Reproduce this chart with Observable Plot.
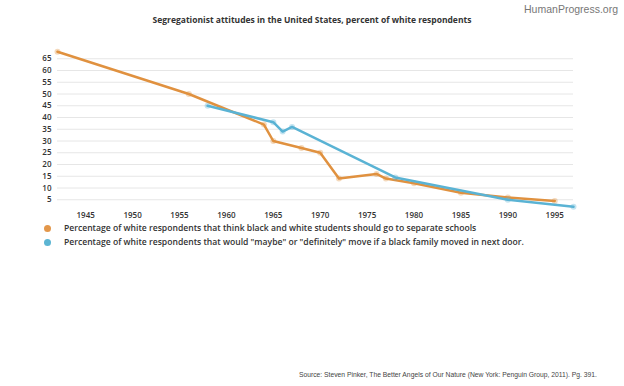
<!DOCTYPE html>
<html><head><meta charset="utf-8">
<script src="https://cdn.jsdelivr.net/npm/d3@7"></script>
<script src="https://cdn.jsdelivr.net/npm/@observablehq/plot@0.6"></script>
<style>
html,body{margin:0;padding:0;background:#fff;}
#wrap{position:relative;width:624px;height:386px;overflow:hidden;font-family:"Open Sans",sans-serif;}
.abs{position:absolute;white-space:nowrap;}
#brand{right:6px;top:3px;font:10.5px "Liberation Sans",Arial,sans-serif;color:#777;}
#title{left:0;width:624px;text-align:center;top:14px;font-size:8.5px;font-weight:700;color:#333;}
.leg{left:44px;font-size:8.6px;font-weight:600;color:#333;}
.leg span{display:inline-block;width:7px;height:7px;border-radius:50%;margin-right:13px;vertical-align:-1px;}
#source{right:27px;top:371px;font:6.75px "Liberation Sans",Arial,sans-serif;color:#444;}
#chart{position:absolute;left:0;top:0;}
</style></head>
<body><div id="wrap">
<div id="chart"></div>
<div id="brand" class="abs">HumanProgress.org</div>
<div id="title" class="abs">Segregationist attitudes in the United States, percent of white respondents</div>
<div class="abs leg" style="top:222px"><span style="background:#e3974a"></span>Percentage of white respondents that think black and white students should go to separate schools</div>
<div class="abs leg" style="top:236px"><span style="background:#5cb5d3"></span>Percentage of white respondents that would "maybe" or "definitely" move if a black family moved in next door.</div>
<div id="source" class="abs">Source: Steven Pinker, The Better Angels of Our Nature (New York: Penguin Group, 2011). Pg. 391.</div>
</div>
<script>
const schoolYears = [1942, 1956, 1964, 1965, 1968, 1970, 1972, 1976, 1977, 1980, 1985, 1990, 1995];
const schoolValues = [68, 50, 37, 30, 27, 25, 14, 16, 14, 12, 8, 6, 4.5];
const moveYears = [1958, 1965, 1966, 1967, 1978, 1990, 1997];
const moveValues = [45, 38, 34, 36, 14.5, 5, 2];
const xTicks = [1945, 1950, 1955, 1960, 1965, 1970, 1975, 1980, 1985, 1990, 1995];
const yTicks = [5, 10, 15, 20, 25, 30, 35, 40, 45, 50, 55, 60, 65];

const orange = "#e0913f";
const blue = "#5ab3d4";
const schools = schoolYears.map((y, i) => ({year: y, value: schoolValues[i]}));
const move = moveYears.map((y, i) => ({year: y, value: moveValues[i]}));

const chart = Plot.plot({
  width: 624, height: 230,
  marginLeft: 57, marginRight: 51, marginTop: 46.5, marginBottom: 19,
  style: {fontFamily: "Open Sans", fontSize: "8px", fontWeight: 600, color: "#333", background: "transparent"},
  x: {domain: [1942, 1997]},
  y: {domain: [0, 70]},
  marks: [
    Plot.gridY(yTicks, {stroke: "#e6e6e6", strokeOpacity: 1}),
    Plot.axisY(yTicks, {tickSize: 0, tickPadding: 6, label: null, fill: "#333"}),
    Plot.axisX(xTicks, {tickSize: 0, tickPadding: 1, label: null, tickFormat: d => String(d), fill: "#333"}),
    Plot.line(schools, {x: "year", y: "value", stroke: orange, strokeWidth: 2.5}),
    Plot.dot(schools, {x: "year", y: "value", r: 3, fill: orange, fillOpacity: 0.35}),
    Plot.line(move, {x: "year", y: "value", stroke: blue, strokeWidth: 2.5}),
    Plot.dot(move, {x: "year", y: "value", r: 3, fill: blue, fillOpacity: 0.35})
  ]
});
document.getElementById("chart").appendChild(chart);
</script>
</body></html>
